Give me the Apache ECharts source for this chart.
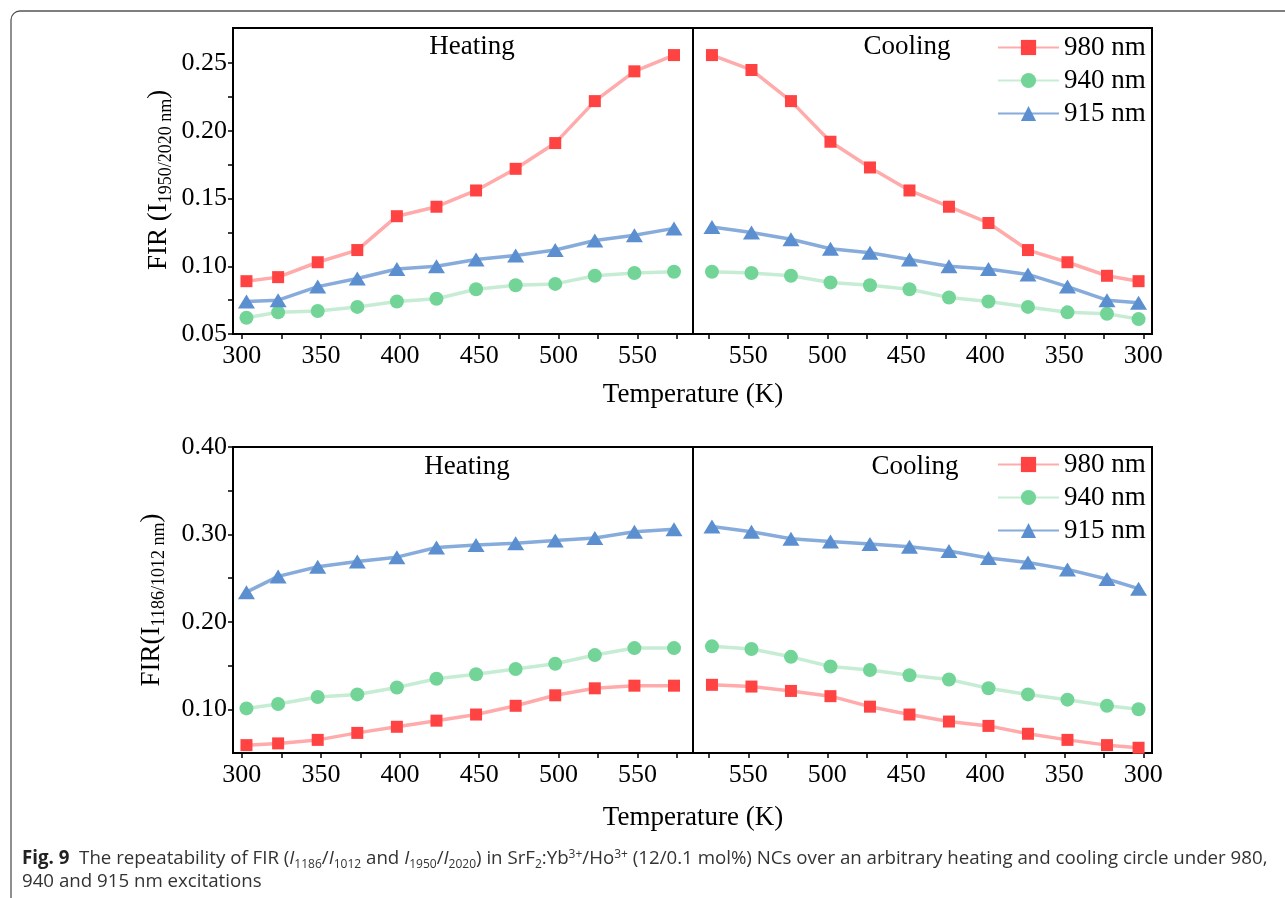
<!DOCTYPE html>
<html>
<head>
<meta charset="utf-8">
<script src="https://cdn.jsdelivr.net/npm/echarts@6/dist/echarts.min.js"></script>
<style>
html,body{margin:0;padding:0;background:#fff}
#main{width:1285px;height:898px}
</style>
</head>
<body>
<div id="main"></div>
<script>
// temperatures (K), heating goes up, cooling comes back down
var heatT = [303, 323, 348, 373, 398, 423, 448, 473, 498, 523, 548, 573];
var coolT = [573, 548, 523, 498, 473, 448, 423, 398, 373, 348, 323, 303];

// FIR (I1950/I2020) - upper plot
var topHeat980 = [0.089, 0.092, 0.103, 0.112, 0.137, 0.144, 0.156, 0.172, 0.191, 0.222, 0.244, 0.256];
var topHeat940 = [0.062, 0.066, 0.067, 0.070, 0.074, 0.076, 0.083, 0.086, 0.087, 0.093, 0.095, 0.096];
var topHeat915 = [0.074, 0.075, 0.085, 0.091, 0.098, 0.100, 0.105, 0.108, 0.112, 0.119, 0.123, 0.128];
var topCool980 = [0.256, 0.245, 0.222, 0.192, 0.173, 0.156, 0.144, 0.132, 0.112, 0.103, 0.093, 0.089];
var topCool940 = [0.096, 0.095, 0.093, 0.088, 0.086, 0.083, 0.077, 0.074, 0.070, 0.066, 0.065, 0.061];
var topCool915 = [0.129, 0.125, 0.120, 0.113, 0.110, 0.105, 0.100, 0.098, 0.094, 0.085, 0.075, 0.073];

// FIR (I1186/I1012) - lower plot
var botHeat980 = [0.059, 0.061, 0.065, 0.073, 0.080, 0.087, 0.094, 0.104, 0.116, 0.124, 0.127, 0.127];
var botHeat940 = [0.101, 0.106, 0.114, 0.117, 0.125, 0.135, 0.140, 0.146, 0.152, 0.162, 0.170, 0.170];
var botHeat915 = [0.234, 0.252, 0.263, 0.269, 0.274, 0.285, 0.288, 0.290, 0.293, 0.296, 0.303, 0.306];
var botCool980 = [0.128, 0.126, 0.121, 0.115, 0.103, 0.094, 0.086, 0.081, 0.072, 0.065, 0.059, 0.056];
var botCool940 = [0.172, 0.169, 0.160, 0.149, 0.145, 0.139, 0.134, 0.124, 0.117, 0.111, 0.104, 0.100];
var botCool915 = [0.309, 0.303, 0.295, 0.292, 0.289, 0.286, 0.281, 0.273, 0.268, 0.260, 0.249, 0.238];

// axis ticks / labels
var xLabels = [300, 350, 400, 450, 500, 550];
var xTicks = [300, 325, 350, 375, 400, 425, 450, 475, 500, 525, 550, 575];
var topYLabels = [0.05, 0.10, 0.15, 0.20, 0.25];
var topYTicks = [0.05, 0.075, 0.10, 0.125, 0.15, 0.175, 0.20, 0.225, 0.25];
var botYLabels = [0.10, 0.20, 0.30, 0.40];
var botYTicks = [0.10, 0.15, 0.20, 0.25, 0.30, 0.35, 0.40];

var names = ['980 nm', '940 nm', '915 nm'];

var serif = 'Liberation Serif';
var sty = {
    '980 nm': {c: '#ff4343', l: '#ffabab', sym: 'rect', size: 12},
    '940 nm': {c: '#72d597', l: '#c6edd4', sym: 'circle', size: 14},
    '915 nm': {c: '#5b8fcf', l: '#87acdb', sym: 'triangle', size: [17, 14]}
};

function pairs(xs, ys){
    var out = [];
    for(var i = 0; i < xs.length; i++){ out.push([xs[i], ys[i]]) }
    return out;
}

function mk(name, xs, ys, idx){
    var s = sty[name];
    return {
        name: name,
        type: 'line',
        xAxisIndex: idx,
        yAxisIndex: idx,
        data: pairs(xs, ys),
        symbol: s.sym,
        symbolSize: s.size,
        itemStyle: {color: s.c},
        lineStyle: {color: s.l, width: 3.5},
        animation: false
    };
}

function grid(left, top, width, height){
    return {left: left, top: top, width: width, height: height,
        show: true, borderColor: '#000', borderWidth: 2, backgroundColor: 'transparent'};
}

function xAxis(idx, inverse){
    return {
        type: 'value', gridIndex: idx, min: 294.5, max: 585, inverse: inverse,
        splitLine: {show: false},
        axisLine: {show: true, onZero: false, lineStyle: {color: '#000', width: 2}},
        axisTick: {show: true, inside: false, length: 5, customValues: xTicks, lineStyle: {color: '#000', width: 1.5}},
        axisLabel: {customValues: xLabels, margin: 9, color: '#000', fontFamily: serif, fontSize: 26}
    };
}

function yAxis(idx, min, max, labels, ticks, show){
    return {
        type: 'value', gridIndex: idx, min: min, max: max,
        splitLine: {show: false},
        axisLine: {show: show, lineStyle: {color: '#000', width: 2}},
        axisTick: {show: show, inside: false, length: 5, customValues: ticks, lineStyle: {color: '#000', width: 1.5}},
        axisLabel: {show: show, customValues: labels, margin: 6, color: '#000', fontFamily: serif, fontSize: 26,
            formatter: function(v){ return v.toFixed(2) }}
    };
}

function legend(top){
    return {
        data: names, orient: 'vertical', left: 992, top: top,
        itemWidth: 61, itemHeight: 19, itemGap: 6,
        textStyle: {fontFamily: serif, fontSize: 27, color: '#000', lineHeight: 26, padding: [0, 0, 0, 0]},
        selectedMode: false
    };
}

function label(text, x, y){
    return {type: 'text', x: x, y: y, style: {text: text, fontFamily: serif, fontSize: 27, fill: '#000', align: 'center', verticalAlign: 'middle'}};
}

function yTitle(main1, sub, x, y){
    return {
        type: 'text', x: x, y: y, rotation: Math.PI / 2,
        style: {
            text: '{m|' + main1 + '}{s|' + sub + '}{m|)}',
            align: 'center', verticalAlign: 'middle',
            rich: {
                m: {fontFamily: serif, fontSize: 27, fill: '#000', lineHeight: 30, verticalAlign: 'top'},
                s: {fontFamily: serif, fontSize: 18, fill: '#000', lineHeight: 16, verticalAlign: 'bottom'}
            }
        }
    };
}

var cf = 'Open Sans';
var capRich = {
    b: {fontFamily: cf, fontWeight: 'bold', fontSize: 18.7, fill: '#222', lineHeight: 22, verticalAlign: 'top'},
    t: {fontFamily: cf, fontSize: 18.7, fill: '#333', lineHeight: 22, verticalAlign: 'top'},
    i: {fontFamily: cf, fontStyle: 'italic', fontSize: 18.7, fill: '#333', lineHeight: 22, verticalAlign: 'top'},
    s: {fontFamily: cf, fontSize: 12, fill: '#333', lineHeight: 14, verticalAlign: 'bottom'},
    p: {fontFamily: cf, fontSize: 12, fill: '#333', lineHeight: 12, verticalAlign: 'top'}
};
var cap1 = '{b|Fig. 9}{t|  The repeatability of FIR (}{i|I}{s|1186}{t|/}{i|I}{s|1012}{t| and }{i|I}{s|1950}{t|/}{i|I}{s|2020}' +
    '{t|) in SrF}{s|2}{t|:Yb}{p|3+}{t|/Ho}{p|3+}{t| (12/0.1 mol%) NCs over an arbitrary heating and cooling circle under 980,}';
var cap2 = '{t|940 and 915 nm excitations}';

var option = {
    backgroundColor: '#fff',
    animation: false,
    grid: [grid(233, 28, 460, 306), grid(693, 28, 459, 306), grid(233, 447, 460, 306), grid(693, 447, 459, 306)],
    xAxis: [xAxis(0, false), xAxis(1, true), xAxis(2, false), xAxis(3, true)],
    yAxis: [
        yAxis(0, 0.05, 0.276, topYLabels, topYTicks, true),
        yAxis(1, 0.05, 0.276, topYLabels, topYTicks, false),
        yAxis(2, 0.05, 0.40, botYLabels, botYTicks, true),
        yAxis(3, 0.05, 0.40, botYLabels, botYTicks, false)
    ],
    legend: [legend(29), legend(446)],
    series: [
        mk('980 nm', heatT, topHeat980, 0), mk('940 nm', heatT, topHeat940, 0), mk('915 nm', heatT, topHeat915, 0),
        mk('980 nm', coolT, topCool980, 1), mk('940 nm', coolT, topCool940, 1), mk('915 nm', coolT, topCool915, 1),
        mk('980 nm', heatT, botHeat980, 2), mk('940 nm', heatT, botHeat940, 2), mk('915 nm', heatT, botHeat915, 2),
        mk('980 nm', coolT, botCool980, 3), mk('940 nm', coolT, botCool940, 3), mk('915 nm', coolT, botCool915, 3)
    ],
    graphic: [
        {type: 'rect', shape: {x: 11, y: 11, width: 1300, height: 900, r: 9}, style: {fill: null, stroke: '#555', lineWidth: 1.3}, z: -1},
        label('Heating', 472, 47), label('Cooling', 907, 47),
        label('Heating', 467, 467), label('Cooling', 915, 467),
        label('Temperature (K)', 693, 395), label('Temperature (K)', 693, 818),
        yTitle('FIR (I', '1950/2020 nm', 160, 180),
        yTitle('FIR(I', '1186/1012 nm', 153, 600),
        {type: 'text', x: 22, y: 849, style: {text: cap1, rich: capRich}},
        {type: 'text', x: 22, y: 872, style: {text: cap2, rich: capRich}}
    ]
};

var chart = echarts.init(document.getElementById('main'));
chart.setOption(option);
</script>
</body>
</html>
